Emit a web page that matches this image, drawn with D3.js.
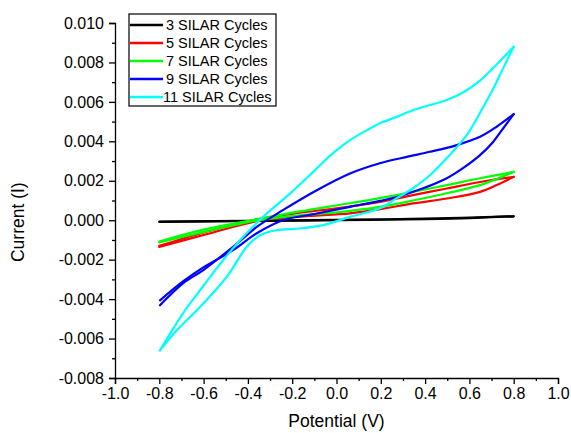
<!DOCTYPE html>
<html>
<head>
<meta charset="utf-8">
<script src="https://cdn.jsdelivr.net/npm/d3@7"></script>
<style>
  body { margin: 0; background: #fff; }
  text { font-family: Arial, "Liberation Sans", sans-serif; }
</style>
</head>
<body>
<div id="chart"></div>
<script>
// scan: forward sweep -0.8 -> 0.8, then return 0.8 -> -0.8, as [potential, current]
const cycles3 = [[-0.8,-0.00008],[-0.4,-0.00004],[0,0.0],[0.4,0.00005],[0.6,0.0001],[0.8,0.0002],
                 [0.4,0.00008],[0,0.00002],[-0.4,-0.00003],[-0.8,-0.00007]];
const cycles5 = [[-0.8,-0.00135],[-0.6,-0.00075],[-0.36,-0.00005],[-0.165,0.00018],[0.061,0.00035],
                 [0.196,0.00056],[0.345,0.00085],[0.498,0.0011],[0.648,0.00144],[0.723,0.00178],[0.8,0.0022],
                 [0.648,0.00194],[0.498,0.00161],[0.345,0.00127],[0.196,0.00093],[0,0.0006],
                 [-0.165,0.00038],[-0.36,0.00004],[-0.6,-0.00062],[-0.8,-0.0013]];
const cycles7 = [[-0.8,-0.00112],[-0.6,-0.0006],[-0.36,-0.00002],[-0.165,0.00025],[0,0.0004],
                 [0.196,0.00068],[0.345,0.001],[0.498,0.00137],[0.648,0.00178],[0.8,0.00245],
                 [0.648,0.00213],[0.498,0.00178],[0.345,0.00144],[0.196,0.00112],[0.061,0.00086],
                 [-0.165,0.00045],[-0.36,0.00005],[-0.6,-0.00048],[-0.8,-0.00108]];
const cycles9 = [[-0.797,-0.00406],[-0.693,-0.0031],[-0.603,-0.0024],[-0.467,-0.00152],[-0.36,-0.00066],
                 [-0.242,0.0],[-0.089,0.00034],[0.061,0.00068],[0.196,0.00098],[0.272,0.00118],
                 [0.391,0.00162],[0.498,0.00213],[0.571,0.00264],[0.648,0.0033],[0.707,0.00397],
                 [0.752,0.00465],[0.8,0.00538],
                 [0.723,0.00474],[0.648,0.00423],[0.543,0.00381],[0.422,0.00347],[0.317,0.00321],
                 [0.196,0.00289],[0.061,0.00237],[-0.089,0.00152],[-0.242,0.00051],[-0.36,-0.00034],
                 [-0.467,-0.00135],[-0.603,-0.00254],[-0.693,-0.0032],[-0.797,-0.00431]];
const cycles11 = [[-0.797,-0.0066],[-0.721,-0.00558],[-0.616,-0.0044],[-0.496,-0.00288],[-0.405,-0.00135],
                  [-0.345,-0.00076],[-0.27,-0.00051],[-0.165,-0.00042],[-0.061,-0.00025],[0.061,0.00017],
                  [0.196,0.00061],[0.272,0.00112],[0.345,0.00162],[0.422,0.00228],[0.498,0.00315],
                  [0.588,0.00431],[0.648,0.00545],[0.707,0.00665],[0.752,0.0077],[0.8,0.0088],
                  [0.723,0.0079],[0.648,0.00708],[0.571,0.00648],[0.498,0.0061],[0.422,0.00584],
                  [0.345,0.00558],[0.272,0.00524],[0.196,0.00492],[0.138,0.00457],[0.061,0.00406],
                  [-0.016,0.0034],[-0.097,0.00254],[-0.21,0.00135],[-0.315,0.00034],[-0.422,-0.00085],
                  [-0.512,-0.00203],[-0.616,-0.00355],[-0.693,-0.00472],[-0.797,-0.0066]];

const seriesNames = ["3 SILAR Cycles", "5 SILAR Cycles", "7 SILAR Cycles", "9 SILAR Cycles", "11 SILAR Cycles"];
const seriesColors = ["#000000", "#ff0000", "#00ff00", "#0000ff", "#00ffff"];
const seriesData = [cycles3, cycles5, cycles7, cycles9, cycles11];

const xTicks = [-1.0, -0.8, -0.6, -0.4, -0.2, 0.0, 0.2, 0.4, 0.6, 0.8, 1.0];
const yTicks = [-0.008, -0.006, -0.004, -0.002, 0.000, 0.002, 0.004, 0.006, 0.008, 0.010];

const W = 571, H = 433;
const margin = { top: 23, right: 13, bottom: 55, left: 115 };

const svg = d3.select("#chart")
    .append("svg")
    .attr("width", W)
    .attr("height", H);

const x = d3.scaleLinear()
    .domain([-1, 1])
    .range([margin.left, W - margin.right]);

const y = d3.scaleLinear()
    .domain([-0.008, 0.010])
    .range([H - margin.bottom, margin.top]);

// minor ticks halfway between majors
const xMinor = d3.range(-0.9, 1.0, 0.2);
const yMinor = d3.range(-0.007, 0.010, 0.002);

svg.append("g")
    .attr("transform", `translate(0, ${H - margin.bottom})`)
    .call(d3.axisBottom(x).tickValues(xTicks).tickFormat(d => d.toFixed(1)).tickSizeOuter(0).tickSize(6).tickPadding(4));

svg.append("g")
    .attr("transform", `translate(0, ${H - margin.bottom})`)
    .call(d3.axisBottom(x).tickValues(xMinor).tickFormat("").tickSize(3))
    .select(".domain").remove();

svg.append("g")
    .attr("transform", `translate(${margin.left}, 0)`)
    .call(d3.axisLeft(y).tickValues(yTicks).tickFormat(d => d.toFixed(3)).tickSizeOuter(0).tickSize(6).tickPadding(5));

svg.append("g")
    .attr("transform", `translate(${margin.left}, 0)`)
    .call(d3.axisLeft(y).tickValues(yMinor).tickFormat("").tickSize(3))
    .select(".domain").remove();

svg.selectAll(".domain, .tick line")
    .attr("stroke", "#000")
    .attr("stroke-width", 1.3);

svg.selectAll(".tick text")
    .style("font-size", "16px")
    .attr("fill", "#000");

// axis titles
svg.append("text")
    .attr("x", x(0))
    .attr("y", 427)
    .attr("text-anchor", "middle")
    .style("font-size", "17.5px")
    .text("Potential (V)");

svg.append("text")
    .attr("transform", `translate(24, ${y(-0.0001)}) rotate(-90)`)
    .attr("text-anchor", "middle")
    .style("font-size", "17.5px")
    .text("Current (I)");

// curves: split each scan at the vertex so the turn stays sharp
const line = d3.line()
    .x(d => x(d[0]))
    .y(d => y(d[1]))
    .curve(d3.curveCatmullRom.alpha(0.5));

function sweeps(pts) {
    const turn = d3.maxIndex(pts, d => d[0]);
    return [pts.slice(0, turn + 1), pts.slice(turn)];
}

const curves = svg.append("g");

seriesData.forEach((pts, i) => {
    curves.selectAll(null)
        .data(sweeps(pts))
        .enter()
        .append("path")
        .attr("d", line)
        .attr("fill", "none")
        .attr("stroke", seriesColors[i])
        .attr("stroke-width", 2.2)
        .attr("stroke-linecap", "round");
});

// legend
const legend = svg.append("g").attr("transform", "translate(129, 14)");

legend.append("rect")
    .attr("width", 147)
    .attr("height", 92)
    .attr("fill", "#fff")
    .attr("stroke", "#000")
    .attr("stroke-width", 1.2);

const rows = legend.selectAll(".row")
    .data(seriesNames)
    .enter()
    .append("g")
    .attr("class", "row")
    .attr("transform", (d, i) => `translate(0, ${11 + i * 18})`);

rows.append("line")
    .attr("x1", 1)
    .attr("x2", 34)
    .attr("stroke", (d, i) => seriesColors[i])
    .attr("stroke-width", 2.5);

rows.append("text")
    .attr("x", (d, i) => i === 4 ? 34 : 37)
    .attr("dy", "0.35em")
    .style("font-size", "14.5px")
    .text(d => d);
</script>
</body>
</html>
